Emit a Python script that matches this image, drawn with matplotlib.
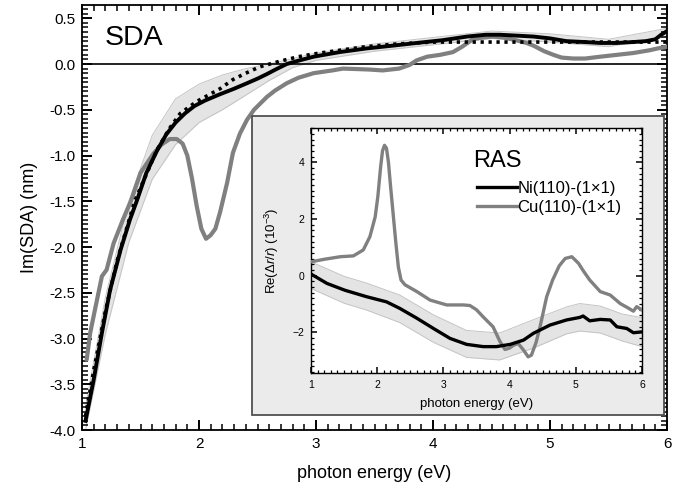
import matplotlib
matplotlib.use("Agg")
import matplotlib.pyplot as plt
from matplotlib.ticker import MultipleLocator
from matplotlib.patches import Rectangle

plt.rcParams['font.family'] = ['Liberation Sans', 'DejaVu Sans']
plt.rcParams['mathtext.fontset'] = 'custom'
plt.rcParams['mathtext.rm'] = 'Liberation Sans'
plt.rcParams['mathtext.it'] = 'Liberation Sans:italic'

# ---------------- main panel data (SDA) ----------------
sda_ni_x = [1.03, 1.10, 1.17, 1.24, 1.33, 1.41, 1.47, 1.55, 1.64, 1.72, 1.80, 1.88, 1.96, 2.05,
            2.18, 2.30, 2.41, 2.50, 2.58, 2.67, 2.75, 2.86, 2.98, 3.20, 3.43, 3.65, 3.86, 4.08,
            4.29, 4.45, 4.57, 4.72, 4.86, 5.0, 5.14, 5.30, 5.43, 5.57, 5.71, 5.82, 5.90, 5.95, 6.0]
sda_ni_y = [-3.90, -3.45, -2.94, -2.47, -2.03, -1.70, -1.49, -1.19, -0.95, -0.77, -0.64, -0.54,
            -0.46, -0.40, -0.33, -0.27, -0.21, -0.16, -0.11, -0.05, 0.0, 0.04, 0.08, 0.13, 0.17,
            0.20, 0.23, 0.26, 0.30, 0.32, 0.32, 0.31, 0.30, 0.28, 0.25, 0.24, 0.23, 0.23, 0.24,
            0.25, 0.27, 0.32, 0.36]

sda_band_x = [1.03, 1.2, 1.4, 1.6, 1.8, 2.0, 2.2, 2.4, 2.6, 2.8, 3.0, 3.5, 4.0, 4.5, 5.0, 5.5, 6.0]
sda_band_hi = [-3.75, -2.55, -1.50, -0.78, -0.38, -0.22, -0.12, -0.05, 0.0, 0.06, 0.12, 0.22,
               0.29, 0.36, 0.33, 0.27, 0.39]
sda_band_lo = [-4.0, -2.95, -1.95, -1.26, -0.88, -0.64, -0.50, -0.34, -0.18, -0.04, 0.04, 0.14,
               0.21, 0.28, 0.24, 0.19, 0.30]

model_x = [1.03, 1.10, 1.20, 1.30, 1.45, 1.64, 1.75, 1.84, 1.98, 2.08, 2.18, 2.29, 2.40, 2.52,
           2.69, 2.85, 2.98, 3.20, 3.43, 3.70, 4.0, 4.29, 4.57, 5.14, 5.71, 6.0]
model_y = [-3.85, -3.35, -2.70, -2.15, -1.50, -0.94, -0.70, -0.54, -0.41, -0.34, -0.27, -0.17,
           -0.10, -0.03, 0.03, 0.08, 0.11, 0.15, 0.19, 0.22, 0.24, 0.24, 0.24, 0.24, 0.24, 0.24]

sda_cu_x = [1.04, 1.07, 1.11, 1.17, 1.21, 1.27, 1.35, 1.42, 1.50, 1.61, 1.68, 1.75, 1.81, 1.86,
            1.90, 1.94, 1.98, 2.02, 2.06, 2.10, 2.14, 2.18, 2.24, 2.29, 2.35, 2.41, 2.47, 2.58,
            2.65, 2.75, 2.85, 2.98, 3.14, 3.23, 3.45, 3.57, 3.71, 3.80, 3.86, 3.95, 4.06, 4.17,
            4.25, 4.34, 4.42, 4.51, 4.60, 4.71, 4.80, 4.86, 4.95, 5.03, 5.10, 5.20, 5.30, 5.43,
            5.57, 5.71, 5.85, 5.92, 6.0]
sda_cu_y = [-3.23, -2.94, -2.69, -2.32, -2.25, -1.96, -1.70, -1.49, -1.19, -0.98, -0.88, -0.82,
            -0.82, -0.87, -1.00, -1.25, -1.55, -1.80, -1.91, -1.87, -1.80, -1.62, -1.30, -0.97,
            -0.76, -0.61, -0.50, -0.36, -0.29, -0.21, -0.15, -0.10, -0.07, -0.05, -0.06, -0.07,
            -0.05, -0.01, 0.04, 0.08, 0.10, 0.13, 0.19, 0.27, 0.29, 0.30, 0.29, 0.26, 0.23, 0.20,
            0.14, 0.10, 0.07, 0.06, 0.06, 0.08, 0.10, 0.12, 0.15, 0.17, 0.19]

# ---------------- inset data (RAS) ----------------
ras_cu_x = [1.0, 1.2, 1.44, 1.64, 1.79, 1.89, 1.97, 2.01, 2.05, 2.08, 2.11, 2.14, 2.17, 2.20,
            2.24, 2.28, 2.32, 2.36, 2.42, 2.60, 2.80, 3.05, 3.30, 3.40, 3.50, 3.60, 3.75, 3.85,
            3.93, 4.00, 4.06, 4.13, 4.21, 4.28, 4.33, 4.40, 4.46, 4.56, 4.65, 4.75, 4.84, 4.94,
            5.04, 5.12, 5.21, 5.37, 5.52, 5.67, 5.80, 5.87, 5.92, 6.0]
ras_cu_y = [0.49, 0.58, 0.67, 0.70, 0.91, 1.38, 2.08, 2.80, 3.80, 4.40, 4.60, 4.50, 4.00, 3.20,
            2.20, 1.20, 0.30, -0.15, -0.32, -0.56, -0.86, -1.03, -1.03, -1.05, -1.20, -1.45,
            -1.80, -2.30, -2.60, -2.55, -2.45, -2.39, -2.62, -2.86, -2.80, -2.35, -1.80, -0.74,
            -0.15, 0.35, 0.61, 0.67, 0.44, 0.15, -0.15, -0.56, -0.68, -0.98, -1.15, -1.25, -1.09,
            -1.21]

ras_ni_x = [1.0, 1.24, 1.51, 1.84, 2.14, 2.34, 2.60, 2.85, 3.10, 3.35, 3.60, 3.80, 4.01, 4.21,
            4.36, 4.61, 4.86, 5.06, 5.11, 5.21, 5.37, 5.52, 5.62, 5.77, 5.87, 6.0]
ras_ni_y = [0.06, -0.27, -0.51, -0.74, -0.92, -1.15, -1.50, -1.86, -2.21, -2.42, -2.50, -2.50,
            -2.42, -2.27, -2.03, -1.74, -1.56, -1.47, -1.42, -1.59, -1.54, -1.56, -1.80, -1.86,
            -2.01, -1.98]

ras_band_x = [1.0, 1.5, 1.84, 2.34, 2.85, 3.35, 3.85, 4.36, 4.86, 5.06, 5.37, 5.7, 6.0]
ras_band_hi = [0.49, -0.02, -0.26, -0.68, -1.38, -1.93, -2.02, -1.55, -1.10, -0.98, -1.07,
               -1.35, -1.48]
ras_band_lo = [-0.45, -0.97, -1.21, -1.65, -2.35, -2.88, -2.97, -2.55, -2.05, -1.95, -2.02,
               -2.30, -2.50]

xticks = [1, 2, 3, 4, 5, 6]
sda_yticks = [0.5, 0.0, -0.5, -1.0, -1.5, -2.0, -2.5, -3.0, -3.5, -4.0]
ras_yticks = [-2, 0, 2, 4]
legend_labels = ['Ni(110)-(1\u00d71)', 'Cu(110)-(1\u00d71)']

# ---------------- figure ----------------
fig = plt.figure(figsize=(6.77, 4.91), dpi=100)
ax = fig.add_axes([82/677, 61/491, 585/677, 425/491])

black = '#000000'
gray = '#808080'
bandc = '#e4e4e4'
bande = '#c4c4c4'

ax.axhline(0, color='black', lw=1.2, zorder=2)
ax.fill_between(sda_band_x, sda_band_lo, sda_band_hi, color=bandc, lw=0, zorder=1)
ax.plot(sda_band_x, sda_band_lo, color=bande, lw=0.7, zorder=1)
ax.plot(sda_band_x, sda_band_hi, color=bande, lw=0.7, zorder=1)
ax.plot(sda_cu_x, sda_cu_y, color=gray, lw=3.0, zorder=3, solid_capstyle='round',
        solid_joinstyle='round')
ax.plot(sda_ni_x, sda_ni_y, color=black, lw=2.8, zorder=4, solid_joinstyle='round')
ax.plot(model_x, model_y, color=black, lw=2.6, ls=(0, (0.9, 1.3)), zorder=5)

ax.set_xlim(1, 6)
ax.set_ylim(-4.0, 0.645)
ax.set_xticks(xticks)
ax.set_xticklabels([str(t) for t in xticks])
ax.set_yticks(sda_yticks)
ax.set_yticklabels(['%.1f' % t for t in sda_yticks])
ax.xaxis.set_minor_locator(MultipleLocator(0.1))
ax.yaxis.set_minor_locator(MultipleLocator(0.05))
ax.tick_params(which='both', direction='in', top=True, right=True, bottom=True, left=True,
               color='black')
ax.tick_params(which='major', length=7, width=1.4, labelsize=11, pad=5)
ax.tick_params(which='minor', length=4, width=1.1)
for s in ax.spines.values():
    s.set_linewidth(1.3)
ax.set_xlabel('photon energy (eV)', fontsize=13, labelpad=10)
ax.set_ylabel('Im(SDA) (nm)', fontsize=13, labelpad=8)
ax.text(0.038, 0.906, 'SDA', transform=ax.transAxes, fontsize=20.5, va='baseline', ha='left')

# inset background panel
panel = Rectangle((252/677, 76/491), 412/677, 299/491, transform=fig.transFigure,
                  facecolor='#ebebeb', edgecolor='#505050', lw=1.3, zorder=10)
fig.patches.append(panel)

ins = fig.add_axes([311/677, 118/491, 331/677, 245/491])
ins.set_zorder(11)
ins.fill_between(ras_band_x, ras_band_lo, ras_band_hi, color=bandc, lw=0, zorder=1)
ins.plot(ras_band_x, ras_band_lo, color=bande, lw=0.7, zorder=1)
ins.plot(ras_band_x, ras_band_hi, color=bande, lw=0.7, zorder=1)
l2, = ins.plot(ras_cu_x, ras_cu_y, color=gray, lw=2.4, zorder=3, solid_joinstyle='round')
l1, = ins.plot(ras_ni_x, ras_ni_y, color=black, lw=2.4, zorder=4, solid_joinstyle='round')
ins.set_xlim(1, 6)
ins.set_ylim(-3.43, 5.21)
ins.set_xticks(xticks)
ins.set_yticks(ras_yticks)
ins.xaxis.set_minor_locator(MultipleLocator(0.1))
ins.yaxis.set_minor_locator(MultipleLocator(0.2))
ins.tick_params(which='both', direction='in', top=True, right=True, bottom=True, left=True,
                color='black')
ins.tick_params(which='major', length=4, width=1.1, labelsize=7.5, pad=5)
ins.tick_params(which='minor', length=2.2, width=0.9)
for s in ins.spines.values():
    s.set_linewidth(1.0)
ins.set_xlabel('photon energy (eV)', fontsize=9.5, labelpad=6)
ins.set_ylabel(r'Re($\Delta r/r$) (10$^{-3}$)', fontsize=9.5, labelpad=8)
ins.text(0.4885, 0.842, 'RAS', transform=ins.transAxes, fontsize=17, va='baseline', ha='left')
ins.legend([l1, l2], legend_labels, frameon=False, fontsize=12, loc='upper left',
           bbox_to_anchor=(0.50, 0.785), borderpad=0, borderaxespad=0, handlelength=2.4,
           handletextpad=0.05, labelspacing=0.25)

fig.savefig('out.png', dpi=100)
